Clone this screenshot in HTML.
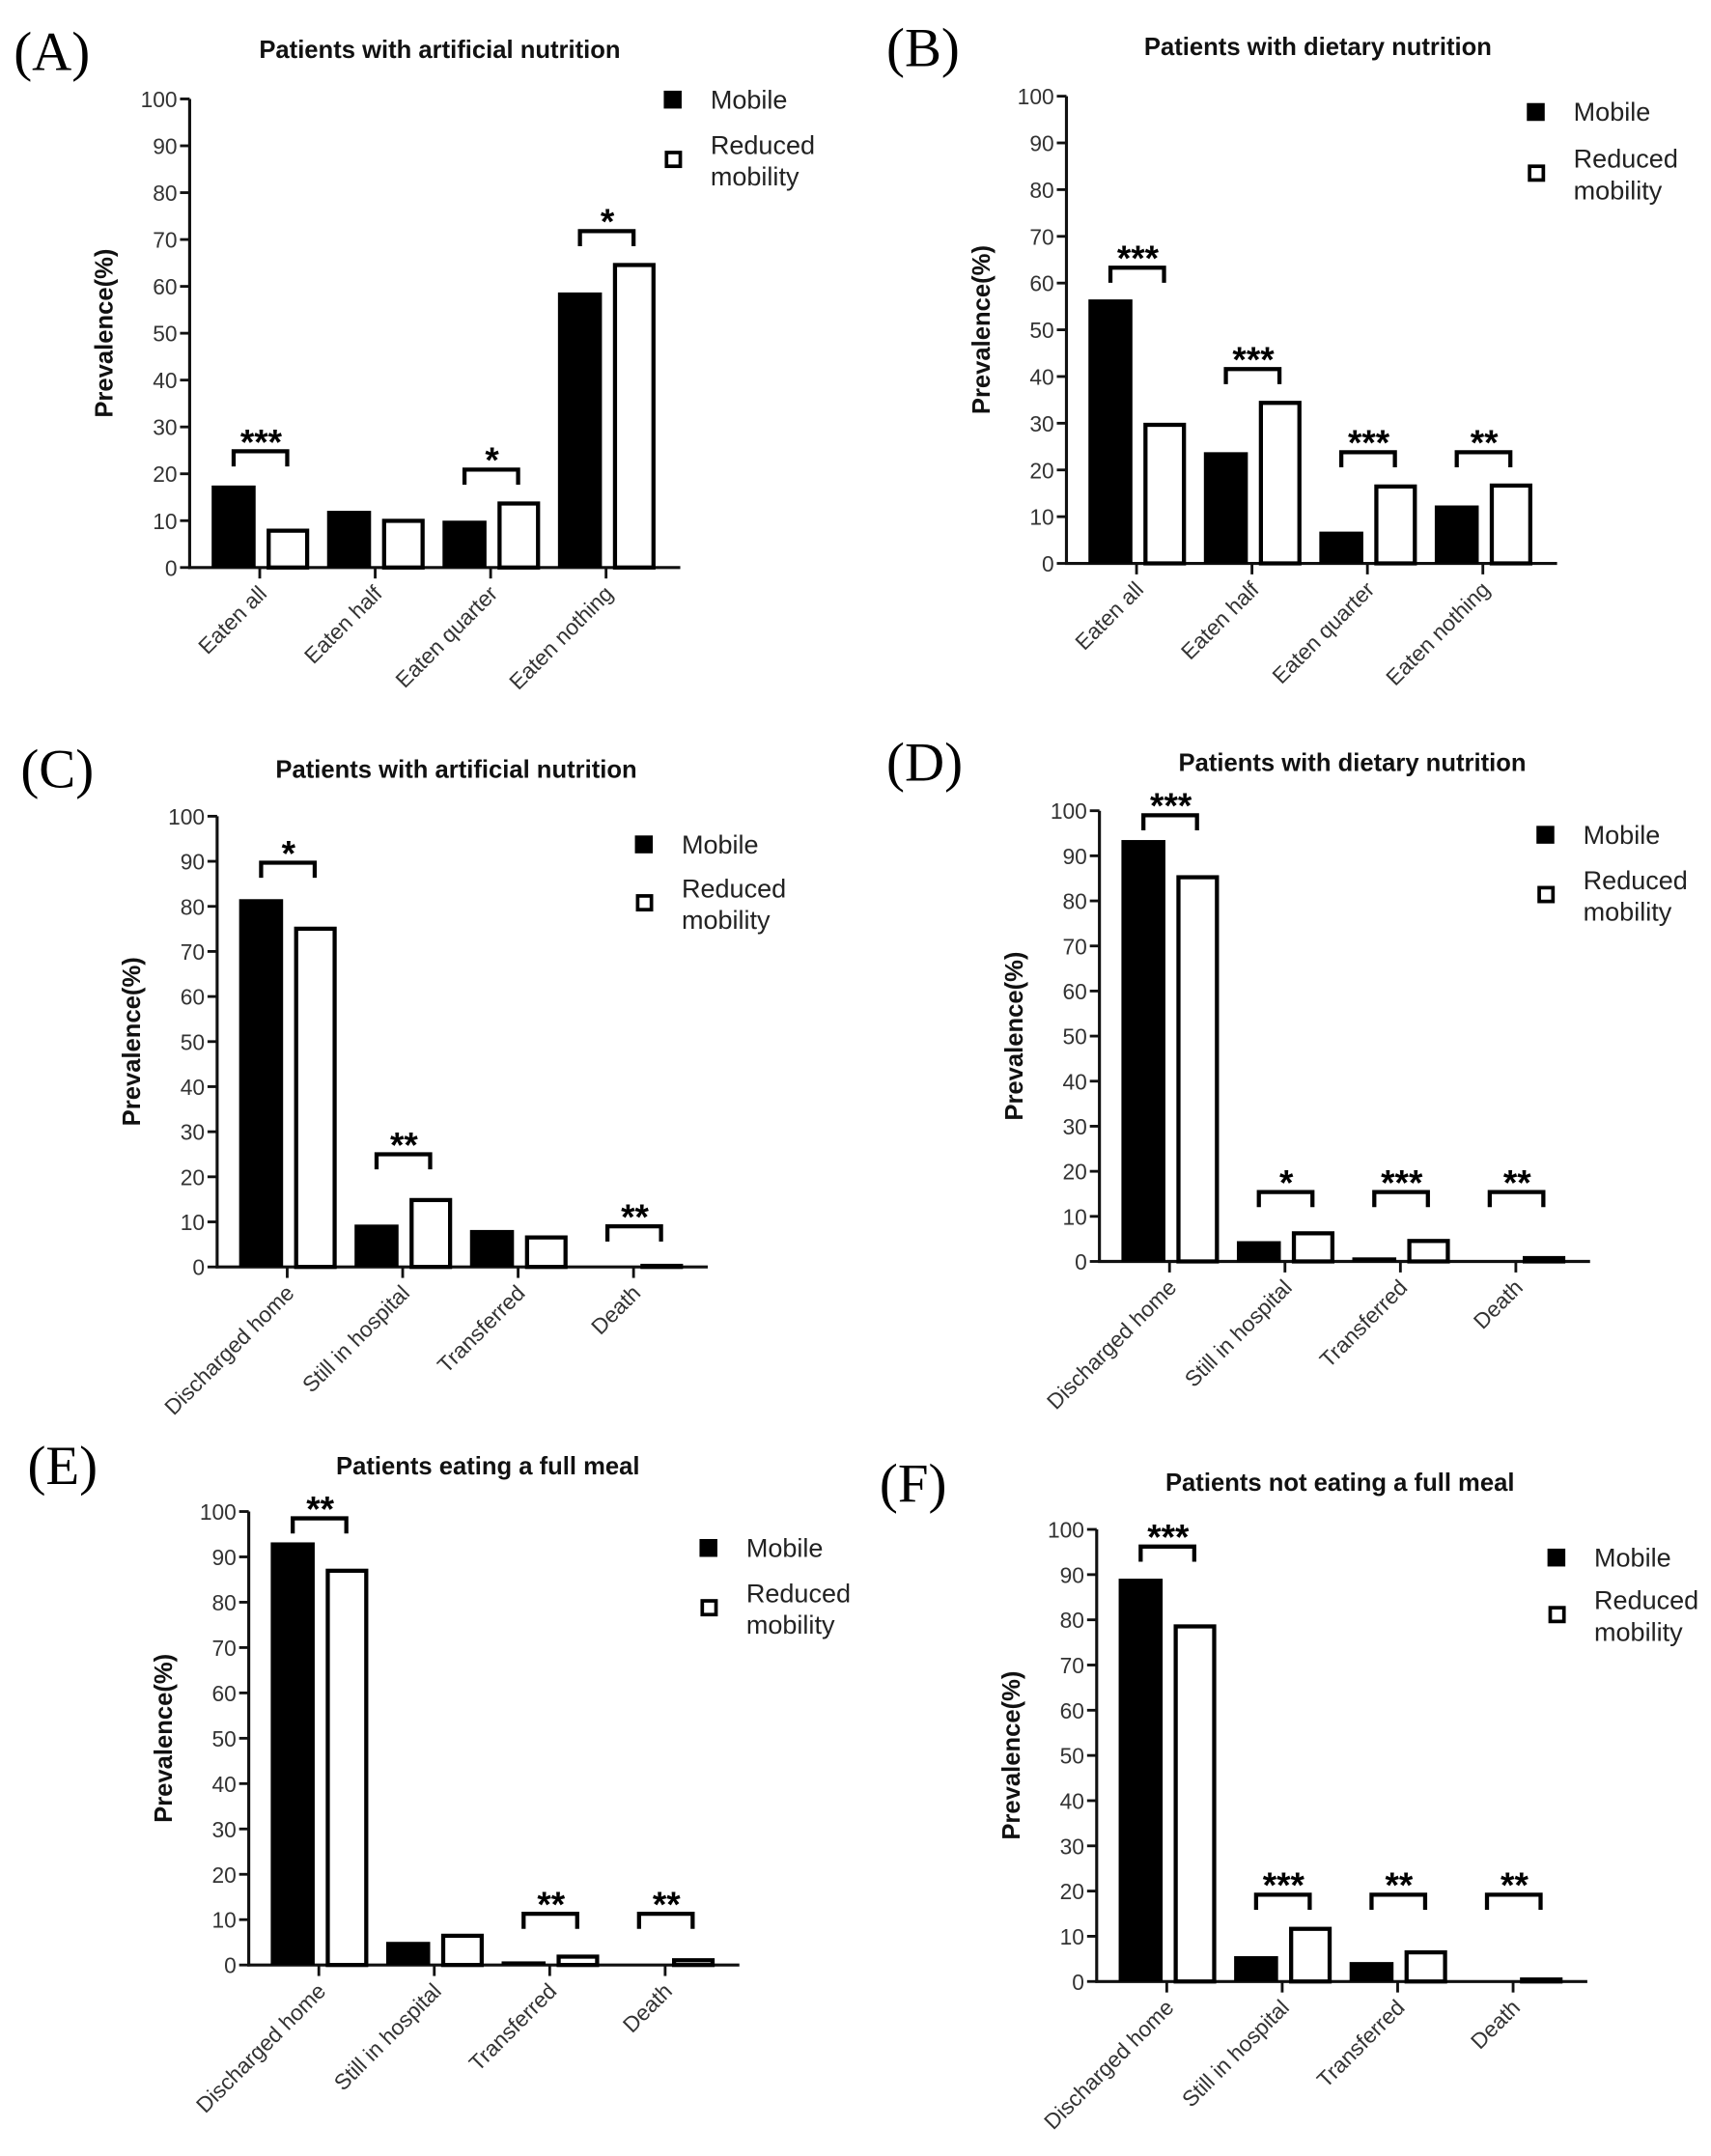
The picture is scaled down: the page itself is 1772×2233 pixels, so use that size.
<!DOCTYPE html>
<html><head><meta charset="utf-8"><style>
html,body{margin:0;padding:0;background:#fff}
svg{display:block}
text{font-family:"Liberation Sans",Arial,sans-serif}
</style></head><body>
<svg id="fig" width="1772" height="2233" viewBox="0 0 1245 1569" preserveAspectRatio="none" xmlns="http://www.w3.org/2000/svg"></svg>
<script>
const yTicks = [0,10,20,30,40,50,60,70,80,90,100];
const catsEaten = ["Eaten all","Eaten half","Eaten quarter","Eaten nothing"];
const catsOutcome = ["Discharged home","Still in hospital","Transferred","Death"];
const mobileA = [17.5,12.1,10.0,58.7];
const reducedA = [8.3,10.4,14.1,65.0];
const sigA = ["***","","*","*"];
const sigYA = [24.8,0,20.9,71.8];
const mobileB = [56.5,23.8,6.8,12.4];
const reducedB = [30.1,34.8,16.9,17.1];
const sigB = ["***","***","***","**"];
const sigYB = [63.3,41.6,23.8,23.8];
const mobileC = [81.6,9.4,8.2,0];
const reducedC = [75.5,15.3,7.0,0.7];
const sigC = ["*","**","","**"];
const sigYC = [89.7,25,0,9];
const mobileD = [93.5,4.5,0.9,0];
const reducedD = [85.7,6.7,5.0,1.2];
const sigD = ["***","*","***","**"];
const sigYD = [99,15.4,15.4,15.4];
const mobileE = [93.2,5.1,0.8,0];
const reducedE = [87.4,6.9,2.3,1.5];
const sigE = ["**","","**","**"];
const sigYE = [98.5,0,11.3,11.3];
const mobileF = [89.1,5.6,4.3,0];
const reducedF = [79.0,12.1,6.9,0.9];
const sigF = ["***","***","**","**"];
const sigYF = [96.2,19.2,19.2,19.2];

const NS="http://www.w3.org/2000/svg";
const svg=document.getElementById('fig');
function mk(tag,attrs,parent,txt){const e=document.createElementNS(NS,tag);for(const k in attrs)e.setAttribute(k,attrs[k]);if(txt!==undefined)e.textContent=txt;(parent||svg).appendChild(e);return e;}

const panels=[
 {id:'a',letter:'(A)',lx:10,ly:38,title:'Patients with artificial nutrition',tx:320,ty:36,ax:138,y0:413,y100:72,cats:catsEaten,m:mobileA,r:reducedA,s:sigA,sy:sigYA,gx:490,gy:72,gy2:116},
 {id:'b',letter:'(B)',lx:645,ly:35,title:'Patients with dietary nutrition',tx:959,ty:34,ax:776,y0:410,y100:70,cats:catsEaten,m:mobileB,r:reducedB,s:sigB,sy:sigYB,gx:1118,gy:81,gy2:126},
 {id:'c',letter:'(C)',lx:15,ly:560,title:'Patients with artificial nutrition',tx:332,ty:560,ax:158,y0:922,y100:594,cats:catsOutcome,m:mobileC,r:reducedC,s:sigC,sy:sigYC,gx:469,gy:614,gy2:657},
 {id:'d',letter:'(D)',lx:645,ly:555,title:'Patients with dietary nutrition',tx:984,ty:555,ax:800,y0:918,y100:590,cats:catsOutcome,m:mobileD,r:reducedD,s:sigD,sy:sigYD,gx:1125,gy:607,gy2:651},
 {id:'e',letter:'(E)',lx:20,ly:1067,title:'Patients eating a full meal',tx:355,ty:1067,ax:181,y0:1430,y100:1100,cats:catsOutcome,m:mobileE,r:reducedE,s:sigE,sy:sigYE,gx:516,gy:1126,gy2:1170},
 {id:'f',letter:'(F)',lx:640,ly:1080,title:'Patients not eating a full meal',tx:975,ty:1079,ax:798,y0:1442,y100:1113,cats:catsOutcome,m:mobileF,r:reducedF,s:sigF,sy:sigYF,gx:1133,gy:1133,gy2:1175}
];

panels.forEach(p=>{
  const g=mk('g',{});
  
  
  const yS=v=>p.y0-(p.y0-p.y100)*v/100;
  const cx=i=>p.ax+51+84*i;
  const L=mk('text',{x:p.lx,y:p.ly+13,'font-size':40,style:'font-family:"Liberation Serif",serif'},g,p.letter);
  
  
  const T=mk('text',{x:p.tx,y:p.ty+6,'font-size':18,'font-weight':'bold','text-anchor':'middle',fill:'#111'},g,p.title);
  
  
  const ya=mk('line',{x1:p.ax,y1:p.y100,x2:p.ax,y2:p.y0+1,stroke:'#111','stroke-width':2.2},g);
  
  
  yTicks.forEach(t=>{
    const y=yS(t);
    mk('line',{x1:p.ax-7,y1:y,x2:p.ax,y2:y,stroke:'#111','stroke-width':2},g);
    const tl=mk('text',{x:p.ax-9,y:y+6,'font-size':16,'text-anchor':'end',fill:'#333'},g,t);
    
    
  });
  const yt=mk('text',{x:0,y:0,'font-size':18,'font-weight':'bold','text-anchor':'middle',fill:'#111',transform:`translate(${p.ax-56},${(p.y0+p.y100)/2}) rotate(-90)`},g,'Prevalence(%)');
  
  
  const xa=mk('line',{x1:p.ax-1,y1:p.y0,x2:p.ax+357,y2:p.y0,stroke:'#111','stroke-width':2.2},g);
  
  
  p.cats.forEach((c,i)=>{
    const x=cx(i);
    mk('line',{x1:x,y1:p.y0,x2:x,y2:p.y0+8,stroke:'#111','stroke-width':2},g);
    const cl=mk('text',{x:0,y:0,'font-size':16,'text-anchor':'end',fill:'#333',transform:`translate(${x+6},${p.y0+20}) rotate(-45)`},g,c);
    
    
    const mv=p.m[i], rv=p.r[i];
    if(mv>0){
      const b=mk('rect',{x:x-35,y:yS(mv),width:32,height:p.y0-yS(mv),fill:'#000'},g);
      
      
    }
    if(rv>0){
      const b=mk('rect',{x:x+6.5,y:yS(rv)+1.5,width:28,height:Math.max(0,p.y0-yS(rv)-1.5),fill:'#fff',stroke:'#000','stroke-width':3},g);
      
      
    }
    if(p.s[i]){
      const by=yS(p.sy[i]);
      const br=mk('path',{d:`M${x-19},${by+11} V${by} H${x+20} V${by+11}`,fill:'none',stroke:'#000','stroke-width':3},g);
      
      
      const st=mk('text',{x:x+1,y:by+2,'font-size':26,'font-weight':'bold','text-anchor':'middle',fill:'#000'},g,p.s[i]);
      
      
    }
  });
  const l1=mk('rect',{x:p.gx-7,y:p.gy-6,width:13,height:13,fill:'#000'},g);
  
  
  const lt1=mk('text',{x:p.gx+27,y:p.gy+7,'font-size':19,fill:'#222'},g,'Mobile');
  
  
  const l2=mk('rect',{x:p.gx-5,y:p.gy2-5,width:10,height:10,fill:'#fff',stroke:'#000','stroke-width':2.6},g);
  
  
  const lt2=mk('text',{x:p.gx+27,y:p.gy2-4,'font-size':19,fill:'#222'},g,'Reduced');
  
  
  const lt3=mk('text',{x:p.gx+27,y:p.gy2+19,'font-size':19,fill:'#222'},g,'mobility');
  
  
});
</script>
</body></html>
